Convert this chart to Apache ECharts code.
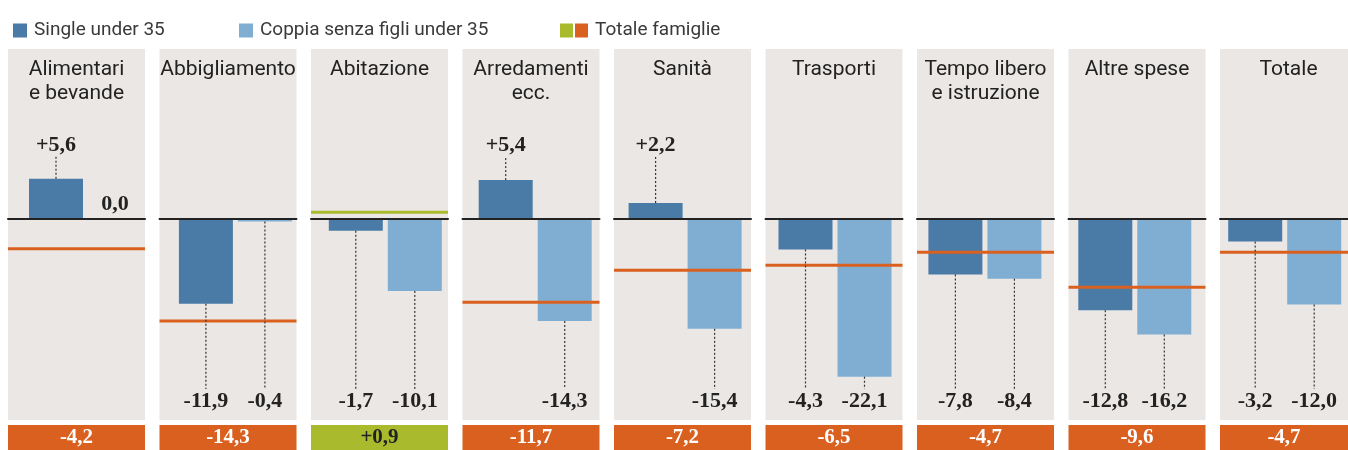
<!DOCTYPE html>
<html>
<head>
<meta charset="utf-8">
<script src="https://cdn.jsdelivr.net/npm/echarts@6/dist/echarts.min.js"></script>
<style>
html,body{margin:0;padding:0;background:#fff;}
#chart{width:1348px;height:450px;}
</style>
</head>
<body>
<div id="chart"></div>
<script>
// ---- data ----
const categories = ['Alimentari\ne bevande','Abbigliamento','Abitazione','Arredamenti\necc.','Sanità','Trasporti','Tempo libero\ne istruzione','Altre spese','Totale'];
const singleUnder35 = [5.6, -11.9, -1.7, 5.4, 2.2, -4.3, -7.8, -12.8, -3.2];
const coppiaUnder35 = [0.0, -0.4, -10.1, -14.3, -15.4, -22.1, -8.4, -16.2, -12.0];
const totaleFamiglie = [-4.2, -14.3, 0.9, -11.7, -7.2, -6.5, -4.7, -9.6, -4.7];
const seriesNames = ['Single under 35', 'Coppia senza figli under 35', 'Totale famiglie'];

// ---- layout / style ----
const PANEL_LEFT0 = 8, PANEL_PITCH = 151.5, PANEL_W = 137;
const BAR_LEFT0 = 26.5, BAR_PITCH = 149.9, BAR_GRID_W = 118;
const TOP = 49, PANEL_H = 371;
const YMIN = -28.15, YMAX = 23.73;
const POS_LABEL = 10.3, NEG_LABEL = -25.5;
const C_SINGLE = '#4a7ba7', C_COPPIA = '#80aed2', C_ORANGE = '#d9601f', C_GREEN = '#a9bb2c', C_BG = '#ebe7e4';
const SERIF = '"Liberation Serif", "DejaVu Serif", serif';
const SANS = 'Roboto, "Noto Sans", sans-serif';

function fmt(v) {
  const s = Math.abs(v).toFixed(1).replace('.', ',');
  if (v > 0) return '+' + s;
  if (v < 0) return '-' + s;
  return s;
}

const grids = [], xAxes = [], yAxes = [], series = [], titles = [];

categories.forEach((cat, i) => {
  const pl = PANEL_LEFT0 + PANEL_PITCH * i;
  const bl = BAR_LEFT0 + BAR_PITCH * i;
  const g0 = 3 * i, g1 = 3 * i + 1, g2 = 3 * i + 2;
  grids.push({left: pl, top: TOP, width: PANEL_W, height: PANEL_H, show: true, backgroundColor: C_BG, borderWidth: 0});
  grids.push({left: bl, top: TOP, width: BAR_GRID_W, height: PANEL_H, show: false});
  grids.push({left: pl, top: 425, width: PANEL_W, height: 25, show: false});

  xAxes.push({type: 'category', gridIndex: g0, data: ['a', 'b'], boundaryGap: false, z: 3,
    axisLine: {show: true, onZero: true, lineStyle: {color: '#222', width: 2}},
    axisTick: {show: false}, axisLabel: {show: false}, splitLine: {show: false}});
  xAxes.push({type: 'category', gridIndex: g1, data: ['S', 'C'], boundaryGap: true,
    axisLine: {show: false}, axisTick: {show: false}, axisLabel: {show: false}});
  xAxes.push({type: 'category', gridIndex: g2, data: ['T'], boundaryGap: true,
    axisLine: {show: false}, axisTick: {show: false}, axisLabel: {show: false}});

  const yBase = {type: 'value', min: YMIN, max: YMAX, show: false, splitLine: {show: false}};
  yAxes.push(Object.assign({gridIndex: g0}, yBase));
  yAxes.push(Object.assign({gridIndex: g1}, yBase));
  yAxes.push({type: 'value', gridIndex: g2, min: 0, max: 1, show: false, splitLine: {show: false}});

  const tot = totaleFamiglie[i];
  const totColor = tot > 0 ? C_GREEN : C_ORANGE;

  series.push({name: seriesNames[0], type: 'bar', xAxisIndex: g1, yAxisIndex: g1, barWidth: 54, barGap: '-100%',
    itemStyle: {color: C_SINGLE}, data: [singleUnder35[i], '-'], z: 2, silent: true});
  series.push({name: seriesNames[1], type: 'bar', xAxisIndex: g1, yAxisIndex: g1, barWidth: 54, barGap: '-100%',
    itemStyle: {color: C_COPPIA}, data: ['-', coppiaUnder35[i]], z: 2, silent: true});
  series.push({name: seriesNames[2], type: 'line', xAxisIndex: g0, yAxisIndex: g0, symbol: 'none',
    lineStyle: {color: totColor, width: 3}, itemStyle: {color: C_ORANGE}, data: [tot, tot], z: 5, silent: true});
  series.push({type: 'custom', xAxisIndex: g1, yAxisIndex: g1, z: 6, silent: true,
    data: [[0, singleUnder35[i]], [1, coppiaUnder35[i]]],
    encode: {x: 0, y: 1},
    renderItem: function (params, api) {
      const idx = api.value(0), v = api.value(1);
      const base = api.coord([idx, v]);
      const x = base[0];
      const ts = {text: fmt(v), x: x, fontFamily: SERIF, fontWeight: 'bold', fontSize: 22, fill: '#222', align: 'center', verticalAlign: 'middle'};
      if (v === 0) {
        ts.y = base[1] - 14;
        return {type: 'text', style: ts};
      }
      const ly = api.coord([idx, v > 0 ? POS_LABEL : NEG_LABEL])[1];
      ts.y = ly;
      const lineEnd = v > 0 ? ly + 11 : ly - 12;
      return {type: 'group', children: [
        {type: 'line', shape: {x1: x, y1: base[1], x2: x, y2: lineEnd}, style: {stroke: '#333', lineWidth: 1.2, lineDash: [2, 2]}},
        {type: 'text', style: ts}
      ]};
    }
  });
  series.push({type: 'bar', xAxisIndex: g2, yAxisIndex: g2, barWidth: '100%', silent: true,
    data: [{value: 1, itemStyle: {color: totColor}}],
    label: {show: true, position: 'inside', formatter: fmt(tot), color: tot > 0 ? '#222' : '#fff',
      fontFamily: SERIF, fontWeight: 'bold', fontSize: 21}});

  titles.push({text: cat, left: pl + PANEL_W / 2, top: 58, textAlign: 'center', padding: 0,
    textStyle: {fontFamily: SANS, fontWeight: 'normal', fontSize: 21, lineHeight: 24, color: '#222'}});
});

const legendText = {fontFamily: SANS, fontSize: 19, color: '#3a3a3a', padding: [0, 0, 0, 2]};
const option = {
  animation: false,
  backgroundColor: '#fff',
  title: titles,
  legend: [
    {left: 8, top: 16, itemWidth: 14, itemHeight: 14, selectedMode: false, data: [{name: seriesNames[0], icon: 'rect'}], textStyle: legendText},
    {left: 234, top: 16, itemWidth: 14, itemHeight: 14, selectedMode: false, data: [{name: seriesNames[1], icon: 'rect'}], textStyle: legendText},
    {left: 555, top: 16, itemWidth: 28, itemHeight: 14, selectedMode: false, textStyle: legendText,
      data: [{name: seriesNames[2], icon: 'rect', itemStyle: {color: {type: 'linear', x: 0, y: 0, x2: 1, y2: 0, colorStops: [
        {offset: 0, color: C_GREEN}, {offset: 0.47, color: C_GREEN}, {offset: 0.47, color: '#fff'},
        {offset: 0.53, color: '#fff'}, {offset: 0.53, color: C_ORANGE}, {offset: 1, color: C_ORANGE}]}}}]}
  ],
  grid: grids,
  xAxis: xAxes,
  yAxis: yAxes,
  series: series
};

const chart = echarts.init(document.getElementById('chart'), null, {renderer: 'canvas'});
chart.setOption(option);
</script>
</body>
</html>
